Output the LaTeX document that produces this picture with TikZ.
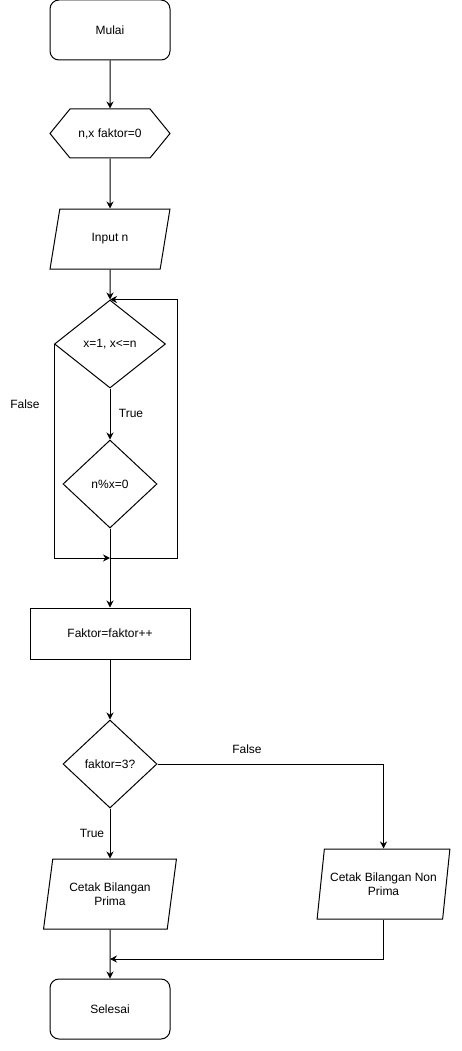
\documentclass[tikz,border=0pt]{standalone}
\usepackage{fontspec}
\setmainfont{Liberation Sans}
\usetikzlibrary{shapes.geometric,shapes.symbols,arrows.meta}

\tikzset{
    every node/.style={font=\fontsize{12}{14}\selectfont, inner sep=0pt},
    terminal/.style={draw, rectangle, rounded corners=9pt, minimum width=120pt, minimum height=60pt},
    prepbox/.style={draw, signal, signal to=west and east, signal pointer angle=101.6,
        minimum width=120pt, minimum height=49pt},
    iobox/.style={draw, trapezium, trapezium left angle=#1, trapezium right angle=180-#1,
        trapezium stretches=true, align=center},
    procbox/.style={draw, rectangle, minimum width=160pt, minimum height=51pt},
    decision/.style={draw, diamond, aspect=1.1, align=center},
    arr/.style={-{Stealth[length=7pt,width=7pt]}}
}

\begin{document}
\begin{tikzpicture}[x=1pt, y=-1pt, line width=1pt]
    \useasboundingbox (0,0) rectangle (462,1051);

    % kotak-kotak utama
    \node[terminal] (mulai) at (110,30) {Mulai};
    \node[prepbox] (init) at (110,133.5) {n,x faktor=0};
    \node[iobox=71.6, minimum width=120pt, minimum height=60pt] (input) at (110,239) {Input n};
    \node[decision, minimum width=111pt, minimum height=88pt] (loop) at (110,344) {x=1, x<=n};
    \node[decision, minimum width=94pt, minimum height=88pt] (cek) at (110,484) {n\%x=0};
    \node[procbox] (faktor) at (110,633.5) {Faktor=faktor++};
    \node[decision, minimum width=94pt, minimum height=88pt] (kondisi) at (110,764) {faktor=3?};
    \node[iobox=74, minimum width=134pt, minimum height=70pt] (prima) at (110,894) {Cetak Bilangan\\Prima};
    \node[iobox=74, minimum width=133pt, minimum height=70pt] (nonprima) at (383.5,884) {Cetak Bilangan Non\\Prima};
    \node[terminal] (selesai) at (110,1009) {Selesai};

    % titik bantu
    \coordinate (gabung1) at (110,558);
    \coordinate (balik) at (177,558);
    \coordinate (gabung2) at (110,959);

    % label
    \node (lblT1) at (131,413) {True};
    \node (lblF1) at (25,404) {False};
    \node (lblF2) at (247,749) {False};
    \node (lblT2) at (92,833) {True};

    % garis alur
    \draw[arr] (mulai) -- (init);
    \draw[arr] (init) -- (input);
    \draw[arr] (input) -- (loop);
    \draw[arr] (loop) -- (cek);
    \draw[arr] (cek) -- (faktor);
    \draw[arr] (loop.west) -- (loop.west |- gabung1) -- (gabung1);
    \draw[arr] (gabung1) -- (balik) |- (loop.north);
    \draw[arr] (faktor) -- (kondisi);
    \draw[arr] (kondisi) -- (prima);
    \draw[arr] (kondisi.east) -| (nonprima.north);
    \draw[arr] (prima) -- (selesai);
    \draw[arr] (nonprima.south) |- (gabung2);
\end{tikzpicture}
\end{document}
